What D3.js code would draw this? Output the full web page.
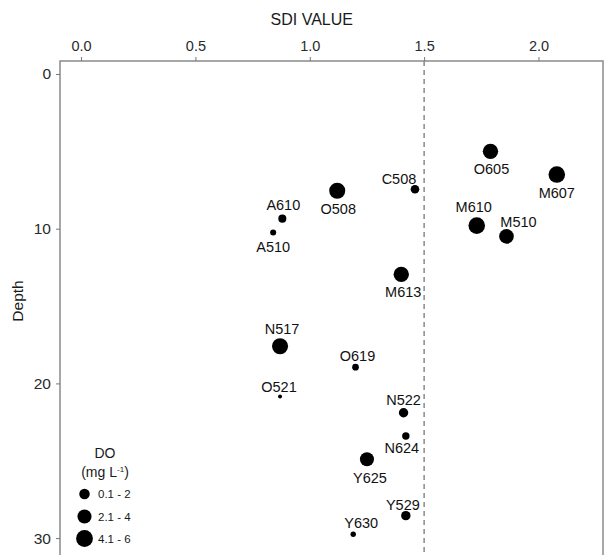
<!DOCTYPE html>
<html>
<head>
<meta charset="utf-8">
<script src="https://cdn.jsdelivr.net/npm/d3@7"></script>
<style>
  body { margin: 0; background: #fff; }
  text { font-family: "Liberation Sans", Arial, sans-serif; }
</style>
</head>
<body>
<div class="chart"></div>
<script>
// data
var sites = ["O605", "M607", "C508", "O508", "A610", "A510", "M610", "M510", "M613",
  "N517", "O619", "O521", "N522", "N624", "Y625", "Y529", "Y630"];
var sdi = [1.79, 2.08, 1.46, 1.12, 0.88, 0.84, 1.73, 1.86, 1.40,
  0.87, 1.20, 0.87, 1.41, 1.42, 1.25, 1.42, 1.19];
var depth = [5.0, 6.5, 7.45, 7.55, 9.35, 10.25, 9.8, 10.5, 12.95,
  17.6, 18.95, 20.85, 21.9, 23.4, 24.9, 28.55, 29.75];
var doValue = [4.9, 5.8, 1.2, 5.4, 1.0, 0.45, 5.8, 4.4, 4.9,
  5.4, 0.6, 0.11, 1.5, 0.8, 3.95, 1.5, 0.32];

var xTicks = [0, 0.5, 1.0, 1.5, 2.0];
var yTicks = [0, 10, 20, 30];
var threshold = 1.5;

var legendValues = [2, 4, 6];
var legendLabels = ["0.1 - 2", "2.1 - 4", "4.1 - 6"];

// label offsets (dx, dy of label centre from the point)
var labelPos = {
  O605: [1, 18], M607: [0, 18], C508: [-16, -10], O508: [1, 18],
  A610: [1, -14], A510: [0, 14], M610: [-3, -19], M510: [12, -15],
  M613: [2, 18], N517: [2, -17], O619: [2, -11], O521: [-1, -10],
  N522: [0, -13], N624: [-4, 12], Y625: [3, 19], Y529: [-3, -11], Y630: [8, -11]
};

var data = sites.map(function(s, i) {
  return { site: s, sdi: sdi[i], depth: depth[i], do: doValue[i] };
});

var svgWidth = 604;
var svgHeight = 555;
var margin = { top: 61, left: 60 };
var width = 543;
var height = 500;

var svg = d3.select(".chart")
  .append("svg")
  .attr("width", svgWidth)
  .attr("height", svgHeight);

var chartGroup = svg.append("g")
  .attr("transform", `translate(${margin.left}, ${margin.top})`);

var xScale = d3.scaleLinear().domain([-0.092, 2.282]).range([0, width]);
var yScale = d3.scaleLinear().domain([-0.84, 31.48]).range([0, height]);
var rScale = d3.scaleSqrt().domain([0, 6]).range([1, 8.4]);

// frame
chartGroup.append("rect")
  .attr("x", 0).attr("y", 0)
  .attr("width", width).attr("height", height + 20)
  .attr("fill", "none")
  .attr("stroke", "#8a8a8a")
  .attr("stroke-width", 1.5);

// top axis
var topAxis = d3.axisTop(xScale)
  .tickValues(xTicks)
  .tickFormat(d3.format(".1f"))
  .tickSize(4)
  .tickPadding(6);
var xAxis = chartGroup.append("g").call(topAxis);
xAxis.select(".domain").remove();
xAxis.selectAll("line").attr("stroke", "#777");
xAxis.selectAll("text")
  .attr("fill", "#2a2a2a")
  .style("font-size", "14.5px");

// left axis
var leftAxis = d3.axisLeft(yScale)
  .tickValues(yTicks)
  .tickSize(4)
  .tickPadding(5);
var yAxis = chartGroup.append("g").call(leftAxis);
yAxis.select(".domain").remove();
yAxis.selectAll("line").attr("stroke", "#777");
yAxis.selectAll("text")
  .attr("fill", "#2a2a2a")
  .style("font-size", "15.5px");

// axis titles
svg.append("text")
  .attr("x", margin.left + xScale(1.0) + 2)
  .attr("y", 19)
  .attr("dy", "0.35em")
  .attr("text-anchor", "middle")
  .attr("fill", "#1a1a1a")
  .style("font-size", "16px")
  .text("SDI VALUE");

svg.append("text")
  .attr("transform", "rotate(-90)")
  .attr("x", -301)
  .attr("y", 18)
  .attr("dy", "0.35em")
  .attr("text-anchor", "middle")
  .attr("fill", "#1a1a1a")
  .style("font-size", "15.5px")
  .text("Depth");

// SDI threshold
chartGroup.append("line")
  .attr("x1", xScale(threshold)).attr("x2", xScale(threshold))
  .attr("y1", 0).attr("y2", height + 20)
  .attr("stroke", "#8a8a8a")
  .attr("stroke-width", 1.5)
  .attr("stroke-dasharray", "5,4");

// points
chartGroup.selectAll("circle.pt")
  .data(data)
  .enter()
  .append("circle")
  .attr("class", "pt")
  .attr("cx", d => xScale(d.sdi))
  .attr("cy", d => yScale(d.depth))
  .attr("r", d => rScale(d.do))
  .attr("fill", "#000");

chartGroup.selectAll("text.lbl")
  .data(data)
  .enter()
  .append("text")
  .attr("class", "lbl")
  .attr("x", d => xScale(d.sdi) + labelPos[d.site][0])
  .attr("y", d => yScale(d.depth) + labelPos[d.site][1])
  .attr("dy", "0.35em")
  .attr("text-anchor", "middle")
  .attr("fill", "#111")
  .style("font-size", "14.5px")
  .text(d => d.site);

// legend
var legend = svg.append("g");
legend.append("text")
  .attr("x", 105).attr("y", 453)
  .attr("dy", "0.35em")
  .attr("text-anchor", "middle")
  .attr("fill", "#1a1a1a")
  .style("font-size", "14px")
  .text("DO");

var unit = legend.append("text")
  .attr("x", 105).attr("y", 472)
  .attr("dy", "0.35em")
  .attr("text-anchor", "middle")
  .attr("fill", "#1a1a1a")
  .style("font-size", "14px");
unit.append("tspan").text("(mg L");
unit.append("tspan").attr("dy", "-5").style("font-size", "8px").text("-1");
unit.append("tspan").attr("dy", "5").text(")");

var legendY = [494, 516.5, 538.5];
legendValues.forEach(function(v, i) {
  legend.append("circle")
    .attr("cx", 84.5)
    .attr("cy", legendY[i])
    .attr("r", rScale(v))
    .attr("fill", "#000");
  legend.append("text")
    .attr("x", 98)
    .attr("y", legendY[i])
    .attr("dy", "0.35em")
    .attr("fill", "#1a1a1a")
    .style("font-size", "11.5px")
    .text(legendLabels[i]);
});
</script>
</body>
</html>
